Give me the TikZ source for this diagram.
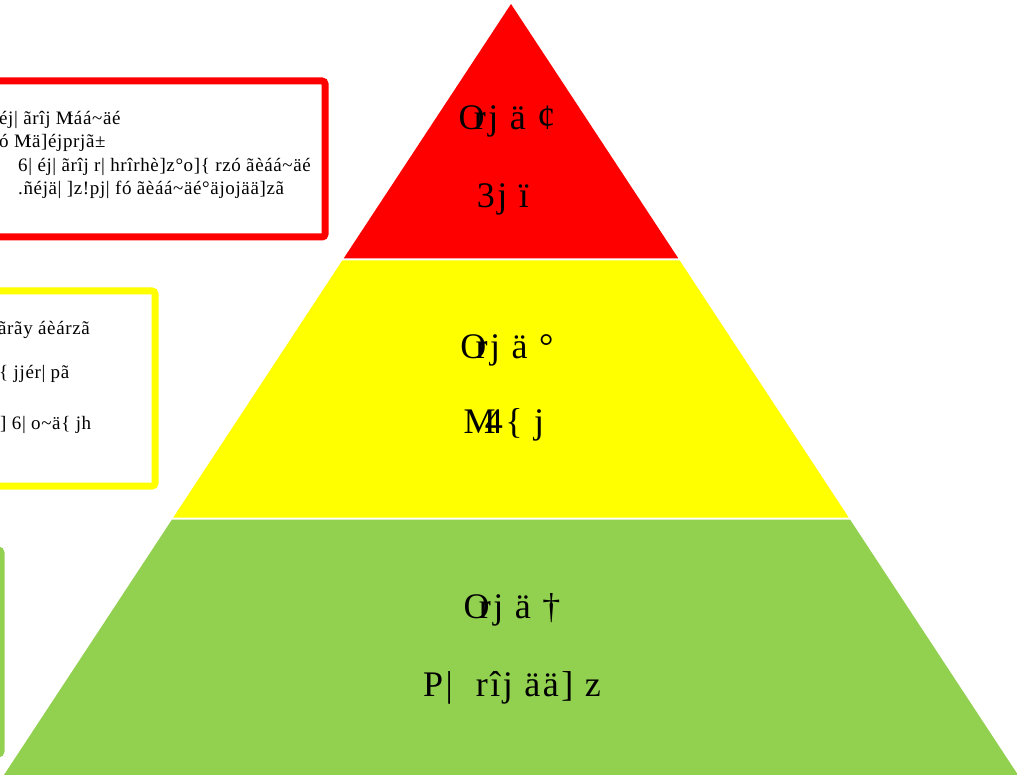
\documentclass[tikz,border=0pt]{standalone}
\usepackage{fontspec}
\setmainfont{Liberation Serif}
\definecolor{pyrred}{HTML}{FF0000}
\definecolor{pyryellow}{HTML}{FFFF00}
\definecolor{pyrgreen}{HTML}{92D050}
\begin{document}
\begin{tikzpicture}[x=1pt,y=-1pt,
  lvl/.style={anchor=base,font=\fontsize{36}{36}\selectfont\addfontfeature{LetterSpace=7},inner sep=0pt},
  boxline/.style={anchor=base west,font=\fontsize{19}{19}\selectfont\addfontfeature{LetterSpace=3.3},inner sep=0pt},
  frame/.style={line width=7pt,rounded corners=3pt,fill=white}]
\useasboundingbox (0,0) rectangle (1017,775);
\clip (0,0) rectangle (1017,775);
% pyramid
\fill[pyrred] (511,4) -- (678.4,258.5) -- (343.6,258.5) -- cycle;
\fill[pyryellow] (342.3,260.5) -- (679.7,260.5) -- (848.7,517.5) -- (173.3,517.5) -- cycle;
\fill[pyrgreen] (172,519.5) -- (850,519.5) -- (1018.7,776) -- (3.3,776) -- cycle;
\node[lvl] (r1) at (507,130) {O\kern-0.3em rj ä ¢};
\node[lvl] (r2) at (503,208) {3j ï};
\node[lvl] (y1) at (507,359) {O\kern-0.3em rj ä °};
\node[lvl] (y2) at (504,433) {M\kern-0.3em 4\{ j};
\node[lvl] (g1) at (512,618) {O\kern-0.3em rj ä †};
\node[lvl] (g2) at (512,696) {P|\ \ rîj ää] z};
% side boxes
\draw[frame,draw=pyrred] (-20,81) rectangle (325,237);
\draw[frame,draw=pyryellow] (-20,291) rectangle (155,486);
\draw[frame,draw=pyrgreen] (-20,550) rectangle (1,754);
\node[boxline] (t1) at (-1,125) {éj| ãrîj M\kern-0.25em táá\textasciitilde äé};
\node[boxline] (t2) at (-1,148) {ó M\kern-0.25em tä]éjprjã±};
\node[boxline] (t3) at (18,172) {6| éj| ãrîj r| hrîrhè]z°o]\{ rzó ãèáá\textasciitilde äé};
\node[boxline] (t4) at (18,195) {.ñéjä| ]z!pj| fó ãèáá\textasciitilde äé°äjojää]zã};
\node[boxline] (u1) at (-2,335) {ãrãy áèárzã};
\node[boxline] (u2) at (-1,378) {\{ jjér| pã};
\node[boxline] (u3) at (0,429) {] 6| o\textasciitilde ä\{ jh};
\end{tikzpicture}
\end{document}
